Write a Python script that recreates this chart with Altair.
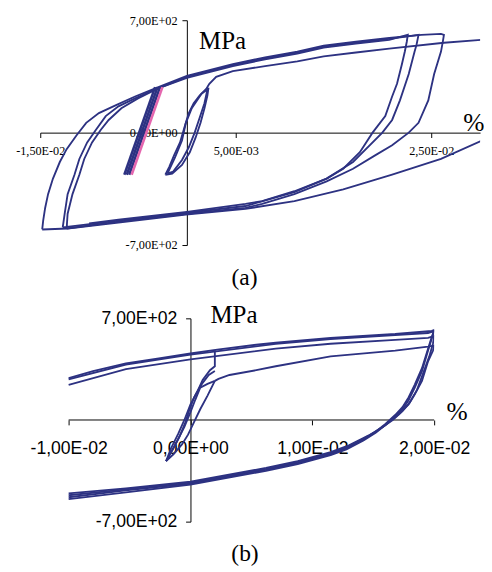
import altair as alt
import pandas as pd

NAVY = "#2D3282"
PINK = "#E466AE"

# ---------------- Panel (a): strain (fraction) vs stress (MPa) ----------------
A_XTICKS = [-0.015, 0.005, 0.025]
A_XLABELS = ["-1,50E-02", "5,00E-03", "2,50E-02"]
A_YTICKS = [-700, 0, 700]
A_YLABELS = ["-7,00E+02", "0,00E+00", "7,00E+02"]
A_XDOMAIN = [-0.015, 0.03]
A_YDOMAIN = [-700, 700]

A1_X = [0.0020, 0.0023, 0.0030, 0.0047, 0.0080, 0.0113, 0.0140, 0.0173, 0.0207, 0.0263, 0.0302]
A1_Y = [274, 304, 347, 383, 414, 444, 475, 499, 523, 560, 578]

A2_X = [0.0302, 0.0260, 0.0210, 0.0160, 0.0110, 0.0060, -0.0001, -0.0070, -0.0122, -0.0148]
A2_Y = [-49, -164, -262, -353, -426, -475, -511, -560, -597, -603]

A3_X = [-0.0148, -0.0147, -0.0145, -0.0142, -0.0137, -0.0130, -0.0123, -0.0113, -0.0103, -0.0090,
        -0.0073, -0.0053, -0.0033, 0.0000, 0.0047, 0.0080, 0.0113, 0.0140, 0.0173, 0.0207,
        0.0240, 0.0260, 0.0263, 0.0262, 0.0260, 0.0253, 0.0247, 0.0237, 0.0227, 0.0210,
        0.0193, 0.0170, 0.0143, 0.0110, 0.0077, 0.0060, 0.0000, -0.0070, -0.0123]
A3_Y = [-603, -548, -469, -383, -286, -183, -103, -18, 61, 122,
        170, 225, 274, 353, 426, 469, 505, 542, 566, 590,
        609, 615, 609, 572, 505, 365, 201, 61, 0, -79,
        -140, -225, -304, -383, -444, -469, -505, -554, -597]

A4_X = [-0.0123, -0.0122, -0.0117, -0.0110, -0.0105, -0.0097, -0.0088, -0.0080, -0.0067, -0.0050,
        -0.0030, 0.0000, 0.0047, 0.0080, 0.0113, 0.0140, 0.0173, 0.0207, 0.0230, 0.0237,
        0.0235, 0.0233, 0.0227, 0.0218, 0.0210, 0.0200, 0.0187, 0.0170, 0.0143, 0.0110,
        0.0060, 0.0000, -0.0070, -0.0127]
A4_Y = [-597, -505, -383, -262, -164, -61, 18, 79, 152, 213,
        274, 347, 420, 463, 499, 536, 560, 584, 603, 609,
        548, 505, 365, 201, 79, 0, -79, -183, -286, -371,
        -457, -499, -548, -590]

A5_X = [-0.0127, -0.0125, -0.0122, -0.0115, -0.0110, -0.0102, -0.0093, -0.0083, -0.0070, -0.0053,
        -0.0033, 0.0000, 0.0047, 0.0080, 0.0113, 0.0140, 0.0173, 0.0207, 0.0222, 0.0226,
        0.0225, 0.0223, 0.0220, 0.0215, 0.0210, 0.0203, 0.0190, 0.0177, 0.0160, 0.0143,
        0.0110, 0.0077, 0.0060, 0.0000, -0.0070, -0.0100]
A5_Y = [-590, -505, -383, -262, -164, -61, 18, 103, 164, 213,
        268, 341, 414, 457, 493, 530, 554, 578, 603, 609,
        566, 505, 426, 304, 225, 103, 0, -122, -225, -286,
        -365, -426, -444, -493, -542, -566]

AR1_X = [-0.0022, -0.0018, -0.0013, -0.0007, -0.0002, 0.0002, 0.0007, 0.0013, 0.0020, 0.0022,
         0.0021, 0.0018, 0.0014, 0.0009, 0.0003, -0.0005, -0.0015, -0.0022]
AR1_Y = [-262, -213, -140, -61, 43, 122, 183, 231, 274, 274,
         231, 152, 61, -30, -122, -201, -256, -262]
AR2_X = [-0.0020, -0.0012, -0.0005, -0.0001, 0.0005, 0.0015, 0.0021, 0.0018, 0.0013, 0.0008,
         0.0002, -0.0005, -0.0014, -0.0020]
AR2_Y = [-256, -152, -49, 61, 152, 243, 268, 183, 91, 0,
         -91, -170, -243, -256]

# narrow elastic band left of zero
AB1_X = [-0.0064, -0.00325]
AB1_Y = [-262, 283]
AB2_X = [-0.0030, -0.00615]
AB2_Y = [283, -262]
AB3_X = [-0.0059, -0.00275]
AB3_Y = [-262, 283]

APINK_X = [-0.00565, -0.0025]
APINK_Y = [-262, 283]

# ---------------- Panel (b) ----------------
B_XTICKS = [-0.01, 0.0, 0.01, 0.02]
B_XLABELS = ["-1,00E-02", "0,00E+00", "1,00E-02", "2,00E-02"]
B_YTICKS = [-700, 700]
B_YLABELS = ["-7,00E+02", "7,00E+02"]
B_XDOMAIN = [-0.01233, 0.02]
B_YDOMAIN = [-700, 700]

BT1_X = [-0.0100, -0.0080, -0.0053, -0.0026, 0.0000, 0.0022, 0.0054, 0.0070, 0.0115, 0.0168,
         0.0198, 0.0200, 0.0198, 0.0195, 0.0190, 0.0184, 0.0179, 0.0174, 0.0168, 0.0160,
         0.0152, 0.0142, 0.0128, 0.0115, 0.0088, 0.0062, 0.0000, -0.0053, -0.0100]
BT1_Y = [289, 337, 390, 424, 458, 485, 518, 532, 566, 592,
         613, 619, 572, 491, 357, 242, 155, 88, 34, -27,
         -81, -135, -195, -236, -296, -343, -438, -485, -532]

BT2_X = [-0.0100, -0.0053, 0.0000, 0.0070, 0.0115, 0.0168, 0.0195, 0.0200, 0.0198, 0.0195,
         0.0190, 0.0184, 0.0179, 0.0174, 0.0168, 0.0160, 0.0152, 0.0142, 0.0128, 0.0115,
         0.0088, 0.0062, 0.0000, -0.0053, -0.0100]
BT2_Y = [280, 382, 450, 524, 558, 584, 599, 612, 559, 478,
         337, 222, 135, 74, 27, -34, -88, -141, -202, -242,
         -303, -350, -444, -498, -545]

BT3_X = [-0.0100, -0.0053, 0.0000, 0.0070, 0.0115, 0.0168, 0.0195, 0.0200, 0.0199, 0.0196,
         0.0191, 0.0186, 0.0180, 0.0174, 0.0166, 0.0158, 0.0146, 0.0130, 0.0115, 0.0088,
         0.0062, 0.0000, -0.0053, -0.0100]
BT3_Y = [242, 350, 417, 491, 525, 552, 565, 579, 525, 438,
         323, 209, 121, 61, 0, -47, -108, -175, -222, -283,
         -330, -424, -471, -505]

BL1_X = [0.0020, 0.0023, 0.0032, 0.0054, 0.0070, 0.0115, 0.0168, 0.0195, 0.0200, 0.0199,
         0.0195, 0.0190, 0.0184, 0.0179, 0.0171, 0.0166, 0.0160, 0.0152, 0.0142, 0.0128,
         0.0115, 0.0088, 0.0062, 0.0000, -0.0053, -0.0100]
BL1_Y = [269, 283, 310, 343, 370, 438, 478, 505, 512, 478,
         404, 269, 175, 108, 40, 7, -34, -81, -128, -188,
         -229, -289, -337, -431, -478, -518]

BS1_X = [-0.0020, -0.0014, -0.0009, -0.0004, -0.0001, 0.0003, 0.0006, 0.0010, 0.0016, 0.0020, 0.0020]
BS1_Y = [-283, -195, -114, -13, 67, 155, 202, 276, 343, 370, 478]
BS2_X = [0.0020, 0.0015, 0.0010, 0.0006, 0.0000, -0.0005, -0.0010, -0.0016, -0.0020]
BS2_Y = [337, 310, 256, 202, 108, 0, -94, -195, -283]
BS3_X = [-0.0020, -0.0014, -0.0007, -0.0002, 0.0003, 0.0008, 0.0014, 0.0020]
BS3_Y = [-283, -236, -168, -101, -13, 74, 168, 269]
BS4_X = [-0.0020, -0.0012, -0.0005, 0.0000, 0.0004, 0.0008, 0.0014, 0.0020]
BS4_Y = [-283, -162, -47, 54, 141, 222, 249, 269]


def long_frame(series):
    rows = []
    for name, xs, ys in series:
        for i, (x, y) in enumerate(zip(xs, ys)):
            rows.append({"s": name, "i": i, "x": x, "y": y})
    return pd.DataFrame(rows)


def label_expr(vals, labs):
    e = "''"
    for v, l in reversed(list(zip(vals, labs))):
        e = f"abs(datum.value - ({v})) < 1e-9 ? '{l}' : {e}"
    return e


SERIF = "Liberation Serif"
SANS = "Liberation Sans"

# ---- panel (a) ----
AW, AH = 450, 230
a_x0 = AW * (0 - A_XDOMAIN[0]) / (A_XDOMAIN[1] - A_XDOMAIN[0])
a_y0 = AH * (0 - A_YDOMAIN[0]) / (A_YDOMAIN[1] - A_YDOMAIN[0])

ax_ax = alt.Axis(values=A_XTICKS, labelExpr=label_expr(A_XTICKS, A_XLABELS), offset=-a_y0,
                 tickSize=5, tickColor="black", tickWidth=1, domainColor="black", domainWidth=1,
                 labelFont=SERIF, labelFontSize=12.5, labelColor="black", labelPadding=7,
                 labelFlush=False, labelOverlap=False, grid=False,
                 title="%", titleX=443, titleY=-2, titleAlign="center", titleBaseline="alphabetic",
                 titleFont=SERIF, titleFontSize=26, titleFontWeight="normal", titleColor="black")
ax_ay = alt.Axis(values=A_YTICKS, labelExpr=label_expr(A_YTICKS, A_YLABELS), offset=-a_x0,
                 tickSize=5, tickColor="black", tickWidth=1, domainColor="black", domainWidth=1,
                 labelFont=SERIF, labelFontSize=12.5, labelColor="black", labelPadding=5,
                 labelFlush=False, labelOverlap=False, grid=False,
                 title="MPa", titleAngle=0, titleX=36, titleY=29, titleAlign="center",
                 titleBaseline="alphabetic", titleFont=SERIF, titleFontSize=25.5,
                 titleFontWeight="normal", titleColor="black")
xa = alt.X("x:Q", scale=alt.Scale(domain=A_XDOMAIN, nice=False, zero=False), axis=ax_ax)
ya = alt.Y("y:Q", scale=alt.Scale(domain=A_YDOMAIN, nice=False, zero=False), axis=ax_ay)

a_dark = long_frame([("a1", A1_X, A1_Y), ("a2", A2_X, A2_Y), ("a3", A3_X, A3_Y),
                     ("a4", A4_X, A4_Y), ("a5", A5_X, A5_Y), ("r1", AR1_X, AR1_Y),
                     ("r2", AR2_X, AR2_Y)])
a_band = long_frame([("b1", AB1_X, AB1_Y), ("b2", AB2_X, AB2_Y), ("b3", AB3_X, AB3_Y)])
a_pink = long_frame([("p", APINK_X, APINK_Y)])

panel_a = alt.layer(
    alt.Chart(a_dark).mark_line(color=NAVY, strokeWidth=1.9, clip=True).encode(
        x=xa, y=ya, detail="s:N", order="i:Q"),
    alt.Chart(a_band).mark_line(color=NAVY, strokeWidth=2.6, clip=True).encode(
        x=xa, y=ya, detail="s:N", order="i:Q"),
    alt.Chart(a_pink).mark_line(color=PINK, strokeWidth=2.6, clip=True).encode(
        x=xa, y=ya, detail="s:N", order="i:Q"),
).properties(
    width=AW, height=AH,
    title=alt.TitleParams("(a)", orient="bottom", anchor="middle", frame="group", offset=15,
                          dx=-16, font=SERIF, fontSize=24, fontWeight="normal", color="black"),
)

# ---- panel (b) ----
BW, BH = 403, 208
b_x0 = BW * (0 - B_XDOMAIN[0]) / (B_XDOMAIN[1] - B_XDOMAIN[0])
b_y0 = BH * (0 - B_YDOMAIN[0]) / (B_YDOMAIN[1] - B_YDOMAIN[0])

bx_ax = alt.Axis(values=B_XTICKS, labelExpr=label_expr(B_XTICKS, B_XLABELS), offset=-b_y0,
                 domain=False, tickSize=5, tickColor="black", tickWidth=1,
                 labelFont=SANS, labelFontSize=18, labelColor="black", labelPadding=15,
                 labelFlush=False, labelOverlap=False, grid=False,
                 title="%", titleX=426, titleY=-1, titleAlign="center", titleBaseline="alphabetic",
                 titleFont=SERIF, titleFontSize=26, titleFontWeight="normal", titleColor="black")
bx_ay = alt.Axis(values=B_YTICKS, labelExpr=label_expr(B_YTICKS, B_YLABELS), offset=-b_x0,
                 tickSize=5, tickColor="black", tickWidth=1, domainColor="black", domainWidth=1,
                 labelFont=SANS, labelFontSize=18, labelColor="black", labelPadding=9,
                 labelFlush=False, labelOverlap=False, grid=False,
                 title="MPa", titleAngle=0, titleX=44, titleY=4, titleAlign="center",
                 titleBaseline="alphabetic", titleFont=SERIF, titleFontSize=25.5,
                 titleFontWeight="normal", titleColor="black")
xb = alt.X("x:Q", scale=alt.Scale(domain=B_XDOMAIN, nice=False, zero=False), axis=bx_ax)
yb = alt.Y("y:Q", scale=alt.Scale(domain=B_YDOMAIN, nice=False, zero=False), axis=bx_ay)

b_dark = long_frame([("t1", BT1_X, BT1_Y), ("t2", BT2_X, BT2_Y), ("t3", BT3_X, BT3_Y),
                     ("l1", BL1_X, BL1_Y), ("s1", BS1_X, BS1_Y), ("s2", BS2_X, BS2_Y),
                     ("s3", BS3_X, BS3_Y), ("s4", BS4_X, BS4_Y)])
b_axis_line = pd.DataFrame({"x": [B_XTICKS[0]], "x2": [B_XTICKS[-1]], "y": [0]})

panel_b = alt.layer(
    alt.Chart(b_axis_line).mark_rule(color="black", strokeWidth=1).encode(x=xb, x2="x2:Q", y=yb),
    alt.Chart(b_dark).mark_line(color=NAVY, strokeWidth=1.9, clip=True).encode(
        x=xb, y=yb, detail="s:N", order="i:Q"),
).properties(
    width=BW, height=BH,
    title=alt.TitleParams("(b)", orient="bottom", anchor="middle", frame="group", offset=12,
                          dx=8, font=SERIF, fontSize=24, fontWeight="normal", color="black"),
)

chart = alt.vconcat(panel_a, panel_b, spacing=75, bounds="flush").properties(
    padding={"left": 7, "top": 0, "right": 0, "bottom": 0}
).configure_view(stroke=None)

chart.save("out.html", embed_options={"renderer": "svg", "actions": False})
